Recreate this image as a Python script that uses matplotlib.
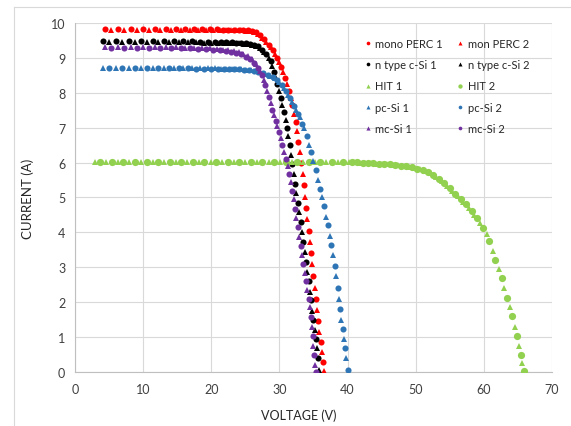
import matplotlib
matplotlib.use("Agg")
import matplotlib.pyplot as plt
from matplotlib.lines import Line2D

plt.rcParams['font.family'] = ['Lato', 'DejaVu Sans']

# ---------------- data (voltage V, current A) ----------------
mono_perc_1 = [(4.4,9.82),(6.3,9.82),(8.2,9.82),(10.0,9.82),(11.7,9.82),(13.3,9.82),(14.8,9.82),
    (16.2,9.82),(17.5,9.82),(18.7,9.82),(19.8,9.82),(20.8,9.82),(21.7,9.81),(22.5,9.81),(23.3,9.81),
    (24.0,9.81),(24.7,9.80),(25.4,9.79),(26.0,9.77),(26.6,9.73),(27.2,9.66),(27.8,9.53),(28.4,9.38),
    (29.0,9.22),(29.6,9.01),(30.2,8.74),(30.8,8.43),(31.4,8.05),(31.9,7.65),(32.4,7.15),(32.8,6.6),
    (33.2,6.0),(33.6,5.35),(33.95,4.7),(34.3,4.05),(34.65,3.4),(35.0,2.75),(35.35,2.1),(35.7,1.45),
    (36.05,0.85),(36.4,0.3)]
mon_perc_2 = [(5.3,9.80),(7.2,9.80),(9.1,9.80),(10.9,9.80),(12.5,9.80),(14.1,9.80),(15.5,9.80),
    (16.9,9.80),(18.1,9.80),(19.3,9.80),(20.3,9.80),(21.3,9.80),(22.1,9.79),(22.9,9.79),(23.7,9.79),
    (24.4,9.79),(25.1,9.78),(25.7,9.76),(26.3,9.73),(26.9,9.68),(27.5,9.58),(28.1,9.45),(28.7,9.3),
    (29.3,9.12),(29.9,8.88),(30.5,8.6),(31.1,8.25),(31.65,7.85),(32.15,7.4),(32.6,6.9),(33.0,6.3),
    (33.4,5.68),(33.75,5.02),(34.1,4.38),(34.45,3.72),(34.8,3.08),(35.15,2.42),(35.5,1.78),
    (35.85,1.15),(36.2,0.58),(36.6,0.02)]
ntype_1 = [(4.1,9.47),(6.0,9.47),(7.9,9.47),(9.7,9.47),(11.4,9.47),(13.0,9.47),(14.5,9.47),
    (15.9,9.47),(17.2,9.47),(18.4,9.46),(19.5,9.46),(20.5,9.46),(21.4,9.46),(22.2,9.45),(23.0,9.45),
    (23.7,9.44),(24.4,9.43),(25.1,9.42),(25.7,9.41),(26.3,9.38),(26.9,9.33),(27.5,9.24),(28.1,9.1),
    (28.7,8.9),(29.2,8.6),(29.7,8.25),(30.2,7.85),(30.65,7.45),(31.1,7.0),(31.5,6.5),(31.9,5.95),
    (32.3,5.4),(32.7,4.85),(33.1,4.3),(33.5,3.72),(33.9,3.15),(34.3,2.6),(34.65,2.05),(35.0,1.5),
    (35.3,0.95),(35.6,0.4)]
ntype_2 = [(5.0,9.45),(6.9,9.45),(8.8,9.45),(10.6,9.45),(12.2,9.45),(13.8,9.45),(15.2,9.45),
    (16.6,9.45),(17.8,9.45),(19.0,9.44),(20.0,9.44),(21.0,9.44),(21.8,9.44),(22.6,9.43),(23.4,9.43),
    (24.1,9.42),(24.8,9.41),(25.4,9.4),(26.0,9.38),(26.6,9.35),(27.2,9.28),(27.8,9.17),(28.4,9.0),
    (28.95,8.76),(29.45,8.43),(29.95,8.05),(30.45,7.65),(30.9,7.22),(31.3,6.75),(31.7,6.22),
    (32.1,5.68),(32.5,5.12),(32.9,4.57),(33.3,4.0),(33.7,3.43),(34.1,2.87),(34.5,2.3),(34.85,1.75),
    (35.15,1.2),(35.45,0.68),(35.8,0.05)]
hit_1 = [(2.9,6.03),(4.6,6.03),(6.3,6.03),(8.0,6.03),(9.7,6.03),(11.4,6.03),(13.1,6.03),(14.8,6.03),
    (16.5,6.03),(18.2,6.03),(19.9,6.03),(21.6,6.03),(23.3,6.03),(25.0,6.03),(26.7,6.03),(28.4,6.03),
    (30.1,6.03),(31.8,6.03),(33.5,6.03),(35.2,6.03),(36.9,6.03),(38.6,6.03),(40.2,6.02),(41.0,6.01),
    (41.8,6.0),(42.6,5.99),(43.4,5.98),(44.2,5.97),(45.0,5.96),(45.8,5.95),(46.6,5.94),(47.4,5.92),
    (48.2,5.9),(49.0,5.88),(49.8,5.85),(50.6,5.81),(51.4,5.76),(52.2,5.69),(53.0,5.6),(53.8,5.48),
    (54.6,5.34),(55.4,5.19),(56.2,5.03),(57.0,4.88),(57.8,4.7),(58.6,4.5),(59.5,4.27),(60.4,3.95),
    (61.3,3.48),(62.2,2.95),(63.0,2.4),(63.8,1.85),(64.5,1.3),(65.1,0.75),(65.6,0.25)]
hit_2 = [(3.7,6.03),(5.4,6.03),(7.1,6.03),(8.8,6.03),(10.5,6.03),(12.2,6.03),(13.9,6.03),(15.6,6.03),
    (17.3,6.03),(19.0,6.03),(20.7,6.03),(22.4,6.03),(24.1,6.03),(25.8,6.03),(27.5,6.03),(29.2,6.03),
    (30.9,6.03),(32.6,6.03),(34.3,6.03),(36.0,6.03),(37.7,6.03),(39.4,6.03),(40.6,6.02),(41.4,6.01),
    (42.2,6.0),(43.0,5.99),(43.8,5.98),(44.6,5.97),(45.4,5.96),(46.2,5.95),(47.0,5.93),(47.8,5.91),
    (48.6,5.89),(49.4,5.87),(50.2,5.83),(51.0,5.79),(51.8,5.73),(52.6,5.65),(53.4,5.54),(54.2,5.41),
    (55.0,5.26),(55.8,5.11),(56.6,4.96),(57.4,4.8),(58.2,4.6),(59.0,4.4),(59.9,4.12),(60.8,3.75),
    (61.7,3.22),(62.6,2.68),(63.4,2.12),(64.1,1.6),(64.8,1.02),(65.4,0.5),(65.9,0.02)]
pc_si_1 = [(4.1,8.71),(6.0,8.71),(7.9,8.71),(9.7,8.71),(11.4,8.71),(13.0,8.71),(14.5,8.71),
    (15.9,8.71),(17.2,8.70),(18.4,8.70),(19.5,8.70),(20.5,8.70),(21.4,8.69),(22.2,8.69),(23.0,8.68),
    (23.7,8.68),(24.4,8.67),(25.1,8.66),(25.8,8.64),(26.5,8.62),(27.2,8.59),(27.9,8.54),(28.6,8.48),
    (29.3,8.41),(30.0,8.3),(30.7,8.13),(31.3,7.95),(31.9,7.75),(32.5,7.52),(33.0,7.3),(33.6,7.0),
    (34.4,6.5),(35.0,6.05),(35.6,5.5),(36.2,5.0),(36.8,4.45),(37.4,3.9),(37.9,3.35),(38.35,2.75),
    (38.75,2.1),(39.1,1.5),(39.45,0.95),(39.8,0.4)]
pc_si_2 = [(5.0,8.70),(6.9,8.70),(8.8,8.70),(10.6,8.70),(12.2,8.70),(13.8,8.70),(15.2,8.70),
    (16.6,8.70),(17.8,8.69),(19.0,8.69),(20.0,8.69),(21.0,8.69),(21.8,8.68),(22.6,8.68),(23.4,8.67),
    (24.1,8.67),(24.8,8.66),(25.5,8.65),(26.2,8.63),(26.9,8.61),(27.6,8.57),(28.3,8.52),(29.0,8.45),
    (29.7,8.36),(30.4,8.22),(31.0,8.05),(31.6,7.85),(32.2,7.63),(32.8,7.4),(33.3,7.12),(34.0,6.75),
    (34.7,6.3),(35.3,5.8),(35.9,5.25),(36.5,4.75),(37.1,4.2),(37.6,3.65),(38.1,3.05),(38.55,2.42),
    (38.9,1.8),(39.3,1.22),(39.6,0.7),(40.0,0.05)]
mc_si_1 = [(4.4,9.3),(6.3,9.3),(8.2,9.3),(10.0,9.3),(11.7,9.3),(13.3,9.3),(14.8,9.3),(16.2,9.29),
    (17.5,9.29),(18.7,9.28),(19.8,9.27),(20.8,9.26),(21.7,9.24),(22.5,9.22),(23.3,9.19),(24.0,9.16),
    (24.7,9.11),(25.4,9.05),(26.0,8.96),(26.6,8.83),(27.2,8.63),(27.7,8.38),(28.2,8.05),(28.7,7.7),
    (29.2,7.35),(29.7,7.05),(30.2,6.7),(30.7,6.3),(31.2,5.9),(31.7,5.45),(32.1,4.95),(32.5,4.42),
    (32.9,3.88),(33.3,3.35),(33.7,2.85),(34.1,2.35),(34.45,1.85),(34.75,1.3),(35.0,0.75),(35.2,0.2)]
mc_si_2 = [(5.3,9.28),(7.2,9.28),(9.1,9.28),(10.9,9.28),(12.5,9.28),(14.1,9.28),(15.5,9.27),
    (16.9,9.27),(18.1,9.26),(19.3,9.25),(20.3,9.24),(21.3,9.22),(22.1,9.2),(22.9,9.17),(23.7,9.14),
    (24.4,9.1),(25.1,9.04),(25.7,8.96),(26.3,8.85),(26.9,8.7),(27.45,8.5),(27.95,8.22),(28.45,7.88),
    (28.95,7.52),(29.45,7.2),(29.95,6.88),(30.45,6.5),(30.95,6.1),(31.45,5.68),(31.9,5.2),(32.3,4.68),
    (32.7,4.15),(33.1,3.62),(33.5,3.1),(33.9,2.6),(34.3,2.1),(34.6,1.58),(34.9,1.02),(35.1,0.48),
    (35.3,0.0)]

series_labels = ["mono PERC 1", "mon PERC 2", "n type c-Si 1", "n type c-Si 2", "HIT 1", "HIT 2",
                 "pc-Si 1", "pc-Si 2", "mc-Si 1", "mc-Si 2"]
series_data = [mono_perc_1, mon_perc_2, ntype_1, ntype_2, hit_1, hit_2, pc_si_1, pc_si_2, mc_si_1, mc_si_2]
x_ticks = [0, 10, 20, 30, 40, 50, 60, 70]
y_ticks = [0, 1, 2, 3, 4, 5, 6, 7, 8, 9, 10]

# ---------------- styles ----------------
RED, BLACK, GREEN, BLUE, PURPLE = '#FF0000', '#000000', '#92D050', '#2E75B6', '#7030A0'
styles = [(RED, 'o', 4.4), (RED, '^', 4.8), (BLACK, 'o', 4.4), (BLACK, '^', 4.8),
          (GREEN, '^', 5.0), (GREEN, 'o', 5.2), (BLUE, '^', 4.8), (BLUE, 'o', 4.4),
          (PURPLE, '^', 5.0), (PURPLE, 'o', 4.4)]

fig = plt.figure(figsize=(5.71, 4.27), dpi=100)
ax = fig.add_axes([0.1313, 0.1265, 0.8354, 0.8173])

handles = []
for lab, data, (c, m, s) in zip(series_labels, series_data, styles):
    v = [p[0] for p in data]
    i = [p[1] for p in data]
    h, = ax.plot(v, i, linestyle='none', marker=m, markersize=s, color=c,
                 markeredgewidth=0, label=lab, zorder=3)
    handles.append(h)

ax.set_xlim(0, 70)
ax.set_ylim(0, 10)
ax.set_xticks(x_ticks)
ax.set_yticks(y_ticks)
ax.grid(True, color='#D9D9D9', linewidth=0.8, zorder=0)
ax.set_axisbelow(True)
for sp in ['top', 'right']:
    ax.spines[sp].set_visible(False)
for sp in ['left', 'bottom']:
    ax.spines[sp].set_color('#BFBFBF')
    ax.spines[sp].set_linewidth(0.8)
ax.tick_params(length=0, labelsize=9, labelcolor='#404040')
ax.tick_params(axis='y', pad=7)
ax.tick_params(axis='x', pad=8)

ax.set_xlabel('VOLTAGE (V)', fontsize=9, color='#262626')
ax.xaxis.set_label_coords(0.47, -0.105)
ax.set_ylabel('CURRENT (A)', fontsize=9.5, color='#262626')
ax.yaxis.set_label_coords(-0.085, 0.5)

order = [0, 2, 4, 6, 8, 1, 3, 5, 7, 9]
leg = ax.legend([handles[k] for k in order], [series_labels[k] for k in order], ncol=2,
                loc='upper left', bbox_to_anchor=(0.607, 0.957), frameon=False,
                fontsize=8, handlelength=0.6, handletextpad=0.35, columnspacing=1.3,
                labelspacing=0.92, markerscale=0.6, borderaxespad=0, borderpad=0)
for t in leg.get_texts():
    t.set_color('#262626')

# outer chart frame
fig.add_artist(Line2D([14/571, 1.0], [1 - 8/427, 1 - 8/427], color='#D9D9D9', linewidth=0.8))
fig.add_artist(Line2D([14/571, 14/571], [0.0, 1 - 8/427], color='#D9D9D9', linewidth=0.8))

fig.savefig('out.png', dpi=100)
